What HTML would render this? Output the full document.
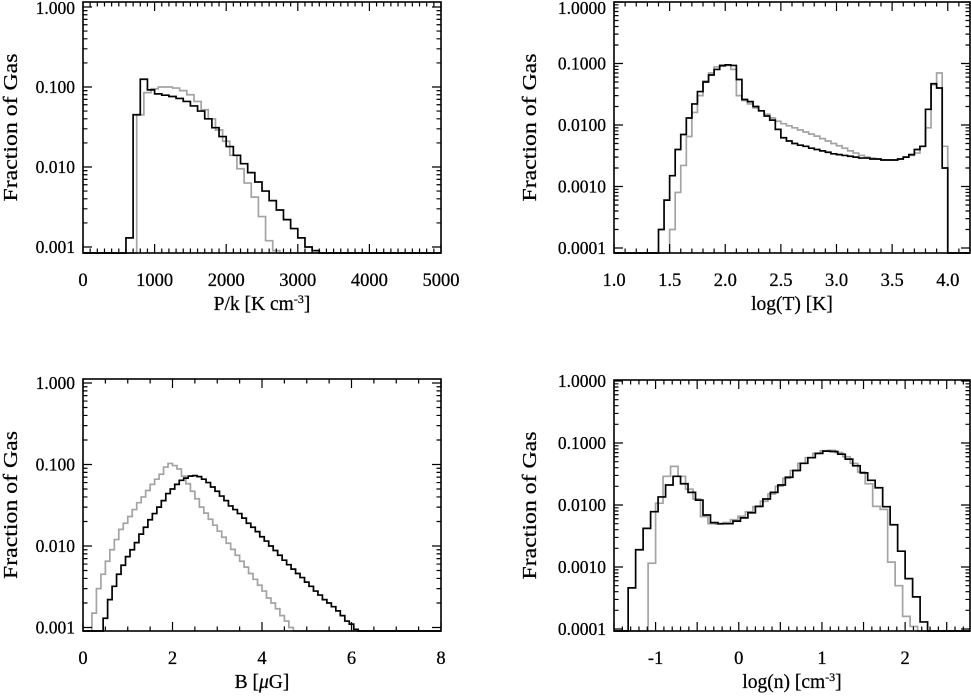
<!DOCTYPE html>
<html><head><meta charset="utf-8">
<style>
html,body{margin:0;padding:0;background:#fff;}
svg{display:block;}
text{font-family:"Liberation Serif",serif;fill:#000;stroke:#000;stroke-width:0.25;}
</style></head>
<body>
<svg id="fig" width="971" height="696" viewBox="0 0 971 696" xmlns="http://www.w3.org/2000/svg"></svg>
<script>
// Panel 1: P/k
const p1BlackStart = 600, p1GrayStart = 750, p1BinWidth = 100;
const p1Black = [0.0013,0.045,0.125,0.092,0.082,0.079,0.076,0.072,0.066,0.058,0.05,0.040,0.031,0.024,0.018,0.014,0.011,0.0085,0.0065,0.005,0.0038,0.0029,0.0022,0.0017,0.0013,0.0010,0.0009];
const p1Gray = [0.045,0.085,0.095,0.1,0.1,0.097,0.09,0.08,0.066,0.052,0.04,0.029,0.021,0.014,0.0095,0.0063,0.0042,0.0024,0.0012,0.0009];
const p1XTicks = [0,1000,2000,3000,4000,5000];
const p1YTicks = ["0.001","0.010","0.100","1.000"];
// Panel 2: log(T)
const p2BlackStart = 1.40, p2GrayStart = 1.50, p2BinWidth = 0.05;
const p2Black = [0.0002,0.0006,0.0015,0.004,0.007,0.013,0.022,0.035,0.05,0.065,0.08,0.092,0.095,0.093,0.055,0.026,0.024,0.02,0.017,0.014,0.012,0.0085,0.0062,0.0055,0.005,0.0047,0.0045,0.0042,0.004,0.0038,0.0036,0.0034,0.0033,0.0032,0.0031,0.003,0.0029,0.0029,0.0028,0.0028,0.0027,0.0027,0.0027,0.0028,0.003,0.0033,0.004,0.0045,0.018,0.047,0.04,0.002];
const p2Gray = [0.0002,0.0008,0.0022,0.0065,0.016,0.03,0.052,0.07,0.088,0.095,0.093,0.08,0.03,0.025,0.022,0.019,0.017,0.015,0.013,0.0115,0.0105,0.0097,0.009,0.0083,0.0077,0.0071,0.0066,0.006,0.0055,0.005,0.0046,0.0042,0.0038,0.0035,0.0032,0.003,0.0029,0.0028,0.0027,0.0027,0.0027,0.0028,0.003,0.0032,0.0035,0.0045,0.009,0.045,0.07,0.0045];
const p2XTicks = ["1.0","1.5","2.0","2.5","3.0","3.5","4.0"];
const p2YTicks = ["0.0001","0.0010","0.0100","0.1000","1.0000"];
// Panel 3: B
const p3BlackStart = 0.45, p3GrayStart = 0.2, p3BinWidth = 0.1;
const p3Black = [0.0013,0.0022,0.0032,0.0045,0.0058,0.0074,0.009,0.011,0.014,0.017,0.021,0.025,0.03,0.036,0.044,0.05,0.057,0.064,0.068,0.072,0.073,0.071,0.066,0.06,0.053,0.047,0.041,0.036,0.031,0.028,0.025,0.022,0.019,0.017,0.015,0.013,0.0115,0.010,0.0088,0.0077,0.0067,0.0059,0.0052,0.0046,0.0041,0.0036,0.0032,0.0028,0.0025,0.0022,0.002,0.0018,0.0016,0.0014,0.0012,0.0011,0.00095];
const p3Gray = [0.0015,0.003,0.0045,0.0065,0.009,0.012,0.016,0.019,0.023,0.028,0.034,0.04,0.048,0.057,0.066,0.076,0.093,0.103,0.097,0.088,0.072,0.058,0.047,0.038,0.030,0.0253,0.0213,0.018,0.0152,0.0128,0.0108,0.0091,0.0077,0.0065,0.0055,0.0046,0.0039,0.0033,0.0028,0.0023,0.002,0.0017,0.0014,0.0012,0.001];
const p3XTicks = [0,2,4,6,8];
const p3YTicks = ["0.001","0.010","0.100","1.000"];
// Panel 4: log(n)
const p4BlackStart = -1.33, p4GrayStart = -1.09, p4BinWidth = 0.09;
const p4Black = [0.00046,0.0019,0.0042,0.0078,0.0135,0.021,0.029,0.022,0.016,0.012,0.0069,0.0052,0.005,0.005,0.0055,0.0062,0.0075,0.0095,0.0125,0.016,0.021,0.028,0.036,0.047,0.058,0.068,0.074,0.073,0.066,0.055,0.043,0.033,0.025,0.019,0.0094,0.0048,0.0018,0.00065,0.00033,0.00013];
const p4Gray = [0.00115,0.0107,0.029,0.042,0.029,0.018,0.0125,0.0065,0.005,0.0049,0.0052,0.0058,0.0066,0.0078,0.0094,0.0115,0.015,0.02,0.027,0.036,0.047,0.058,0.068,0.075,0.076,0.07,0.06,0.047,0.034,0.022,0.0095,0.0085,0.0012,0.0005,0.00016,0.00011];
const p4XTicks = [-1,0,1,2];
const p4YTicks = ["0.0001","0.0010","0.0100","0.1000","1.0000"];

const NS = "http://www.w3.org/2000/svg";
const fig = document.getElementById('fig');
function mk(tag, attrs, parent){
  const e = document.createElementNS(NS, tag);
  for (const k in attrs) e.setAttribute(k, attrs[k]);
  (parent||fig).appendChild(e);
  return e;
}

function drawPanel(c){
  const g = mk('g', {});
  
  
  const xs = v => c.L + (v - c.xmin) / (c.xmax - c.xmin) * (c.R - c.L);
  const ys = v => {
    let y = c.yDec0 - c.decPx * Math.log10(v / c.yVal0);
    return Math.min(y, c.B);
  };
  function series(vals, start, w, color, nm){
    let d = 'M' + c.L + ',' + c.B + ' L' + xs(start) + ',' + c.B;
    for (let i = 0; i < vals.length; i++){
      const x0 = xs(start + i*w), x1 = xs(start + (i+1)*w), y = ys(vals[i]);
      d += ' L' + x0 + ',' + y + ' L' + x1 + ',' + y;
    }
    d += ' L' + xs(start + vals.length*w) + ',' + c.B + ' L' + c.R + ',' + c.B;
    const p = mk('path', {d: d, fill:'none', stroke: color, 'stroke-width': 1.7, 'stroke-linejoin':'miter'}, g);
    
    
  }
  series(c.gray, c.grayStart, c.bw, '#a4a4a4', 'gray-histogram');
  series(c.black, c.blackStart, c.bw, '#000', 'black-histogram');
  const fr = mk('rect', {x:c.L, y:c.T, width:c.R-c.L, height:c.B-c.T, fill:'none', stroke:'#000', 'stroke-width':1.6}, g);
  
  
  let tk = '';
  const nDec = c.yTicks.length;
  for (let i = 0; i < nDec; i++){
    const v = c.yVal0 * Math.pow(10, i);
    const y = ys(v);
    tk += `M${c.L},${y}h9M${c.R},${y}h-9`;
    for (let m = 2; m <= 9; m++){
      const ym = ys(v*m);
      if (ym < c.T) break;
      tk += `M${c.L},${ym}h4.5M${c.R},${ym}h-4.5`;
    }
    const t = mk('text', {x: c.L - 8, y: Math.max(y + 6, 14), 'text-anchor':'end', 'font-size':17.5}, g);
    t.textContent = c.yTicks[i];
    
    
  }
  for (let v = c.xmin; v <= c.xmax + 1e-9; v += c.minor){
    const x = xs(v);
    const isMajor = Math.abs(Math.round((v - c.majorBase)/c.major)*c.major - (v - c.majorBase)) < 1e-6;
    const h = isMajor ? 9 : 4.5;
    tk += `M${x},${c.B}v-${h}M${x},${c.T}v${h}`;
  }
  mk('path', {d: tk, stroke:'#000', 'stroke-width':1.2, fill:'none'}, g);
  for (let i = 0; i < c.xTicks.length; i++){
    const v = parseFloat(c.xTicks[i]);
    const t = mk('text', {x: xs(v), y: c.B + 33, 'text-anchor':'middle', 'font-size':18.5}, g);
    t.textContent = c.xTicks[i];
    
    
  }
  const xl = mk('text', {x: (c.L+c.R)/2, y: c.B + 57, 'text-anchor':'middle', 'font-size':19.5}, g);
  xl.innerHTML = c.xlabel;
  
  
  const yl = mk('text', {x: 0, y: 0, 'text-anchor':'middle', 'font-size':20, textLength: 148, lengthAdjust:'spacingAndGlyphs', transform:`translate(${c.ylx},${(c.T+c.B)/2}) rotate(-90)`}, g);
  yl.textContent = 'Fraction of Gas';
  
  
}

drawPanel({name:'pressure-panel', L:83, R:441, T:2, B:253, xmin:0, xmax:5000, minor:100, major:1000, majorBase:0,
  yVal0:0.001, yDec0:247, decPx:80, yTicks:p1YTicks, xTicks:p1XTicks.map(String),
  black:p1Black, blackStart:p1BlackStart, gray:p1Gray, grayStart:p1GrayStart, bw:p1BinWidth,
  xlabel:'P/k [K cm<tspan dy="-7" font-size="12">-3</tspan><tspan dy="7">]</tspan>', ylx:17});
drawPanel({name:'temperature-panel', L:614, R:970, T:2, B:253, xmin:1.0, xmax:4.2, minor:0.1, major:0.5, majorBase:1.0,
  yVal0:0.0001, yDec0:248, decPx:61.5, yTicks:p2YTicks, xTicks:p2XTicks,
  black:p2Black, blackStart:p2BlackStart, gray:p2Gray, grayStart:p2GrayStart, bw:p2BinWidth,
  xlabel:'log(T) [K]', ylx:536});
drawPanel({name:'magnetic-field-panel', L:83, R:441, T:379, B:631, xmin:0, xmax:8, minor:0.5, major:2, majorBase:0,
  yVal0:0.001, yDec0:627.5, decPx:81.5, yTicks:p3YTicks, xTicks:p3XTicks.map(String),
  black:p3Black, blackStart:p3BlackStart, gray:p3Gray, grayStart:p3GrayStart, bw:p3BinWidth,
  xlabel:'B [<tspan font-style="italic">μ</tspan>G]', ylx:17});
drawPanel({name:'density-panel', L:614, R:970, T:380, B:631, xmin:-1.5, xmax:2.78, minor:0.1, major:0.5, majorBase:-1.5,
  yVal0:0.0001, yDec0:629, decPx:62, yTicks:p4YTicks, xTicks:p4XTicks.map(String),
  black:p4Black, blackStart:p4BlackStart, gray:p4Gray, grayStart:p4GrayStart, bw:p4BinWidth,
  xlabel:'log(n) [cm<tspan dy="-7" font-size="12">-3</tspan><tspan dy="7">]</tspan>', ylx:536});
</script>
</body></html>
